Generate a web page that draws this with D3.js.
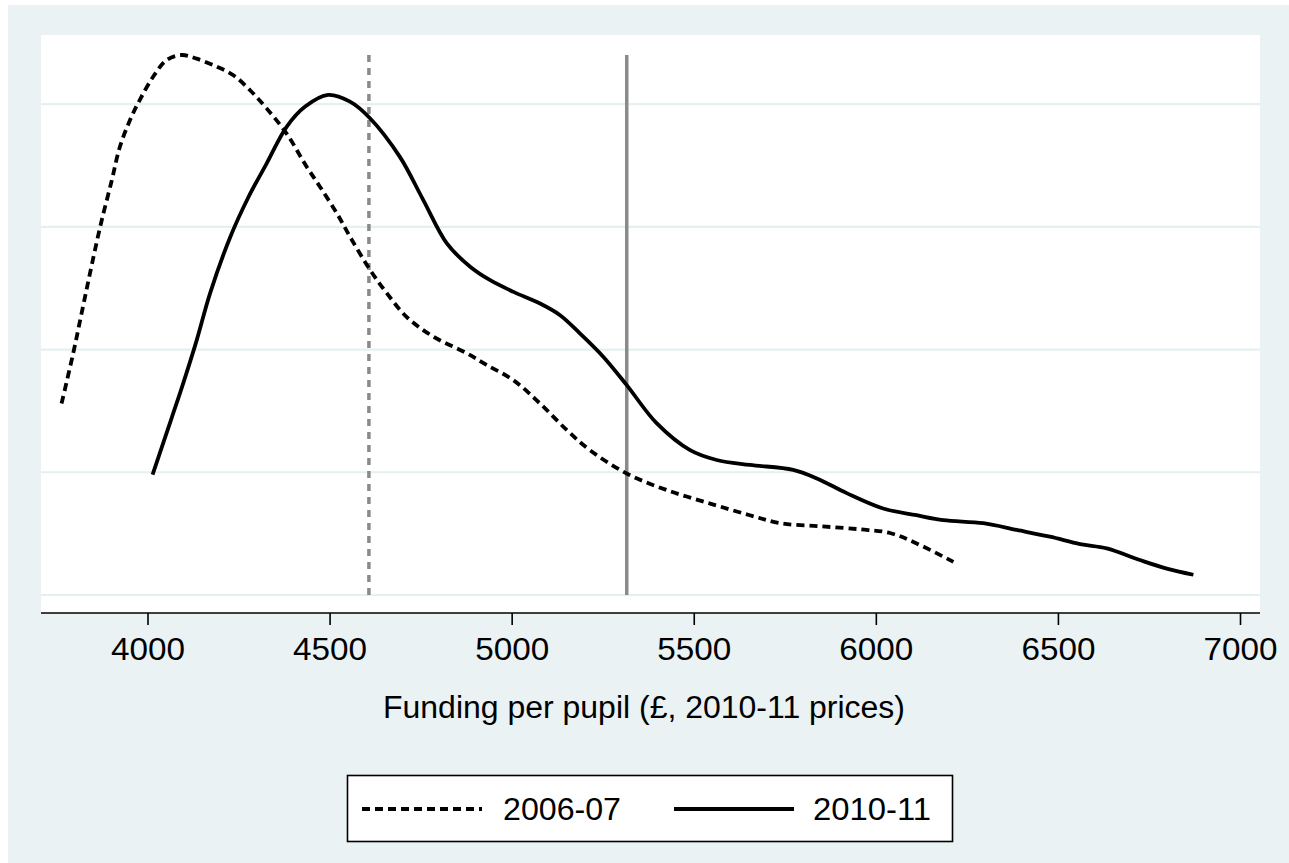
<!DOCTYPE html>
<html>
<head>
<meta charset="utf-8">
<script src="https://cdn.jsdelivr.net/npm/d3@7"></script>
<style>
  html, body { margin: 0; padding: 0; background: #ffffff; }
  svg { display: block; }
  text { font-family: "Liberation Sans", Arial, "DejaVu Sans", sans-serif; fill: #000; }
</style>
</head>
<body>
<svg id="chart" width="1289" height="863"></svg>
<script>
// ---- Data (kernel density of funding per pupil, density in units of 1e-4) ----
const funding0607 = [3764, 3796, 3819, 3842, 3870, 3902, 3924, 3952, 3979, 4016, 4053, 4094, 4135, 4190, 4236, 4281, 4327, 4382, 4437, 4474, 4520, 4556, 4611, 4657, 4712, 4785, 4877, 4931, 5005, 5078, 5151, 5215, 5316, 5426, 5545, 5654, 5737, 5847, 5957, 6039, 6112, 6213];
const density0607 = [3.12, 3.94, 4.59, 5.24, 6.00, 6.76, 7.30, 7.74, 8.07, 8.45, 8.72, 8.80, 8.74, 8.61, 8.47, 8.23, 7.93, 7.52, 6.98, 6.65, 6.22, 5.84, 5.30, 4.92, 4.53, 4.21, 3.94, 3.75, 3.50, 3.12, 2.69, 2.36, 1.98, 1.71, 1.49, 1.30, 1.17, 1.12, 1.07, 1.01, 0.84, 0.54];

const funding1011 = [4014, 4066, 4098, 4135, 4172, 4227, 4276, 4327, 4382, 4433, 4496, 4556, 4611, 4693, 4757, 4822, 4886, 4941, 5005, 5078, 5133, 5188, 5252, 5316, 5398, 5490, 5563, 5654, 5773, 5838, 5920, 6020, 6112, 6185, 6295, 6387, 6478, 6561, 6634, 6725, 6799, 6872];
const density1011 = [1.96, 2.88, 3.45, 4.15, 4.92, 5.83, 6.47, 7.03, 7.63, 7.96, 8.15, 8.04, 7.77, 7.14, 6.44, 5.73, 5.35, 5.13, 4.94, 4.75, 4.56, 4.26, 3.88, 3.42, 2.80, 2.36, 2.20, 2.12, 2.04, 1.90, 1.66, 1.41, 1.30, 1.22, 1.17, 1.06, 0.95, 0.83, 0.76, 0.57, 0.43, 0.33];

const seriesNames = ["2006-07", "2010-11"];
const xTicks = [4000, 4500, 5000, 5500, 6000, 6500, 7000];
const yGrid = [0, 2, 4, 6, 8];
const medianLines = [4608, 5316];   // 2006-07 (dashed), 2010-11 (solid)
const yTop = 8.8;
const xTitle = "Funding per pupil (£, 2010-11 prices)";

// ---- Layout ----
const W = 1289, H = 863;
const plot = { left: 41, right: 1260, top: 35, bottom: 613 };
const svg = d3.select("#chart");

const x = d3.scaleLinear().domain([4000, 7000]).range([147.5, 1240]);
const y = d3.scaleLinear().domain([0, yTop]).range([595, 55]);

// graph region background
svg.append("rect").attr("x", 8).attr("y", 5).attr("width", W - 8).attr("height", H - 5)
  .attr("fill", "#eaf2f3");
// plot region
svg.append("rect").attr("x", plot.left).attr("y", plot.top)
  .attr("width", plot.right - plot.left).attr("height", plot.bottom - plot.top)
  .attr("fill", "#ffffff");

// gridlines
svg.append("g").selectAll("line").data(yGrid).join("line")
  .attr("x1", plot.left).attr("x2", plot.right)
  .attr("y1", d => y(d)).attr("y2", d => y(d))
  .attr("stroke", "#e6eff1").attr("stroke-width", 2.2);

// vertical reference lines
svg.append("line")
  .attr("x1", x(medianLines[0])).attr("x2", x(medianLines[0]))
  .attr("y1", y(0)).attr("y2", y(yTop))
  .attr("stroke", "#8a8a8a").attr("stroke-width", 3.5).attr("stroke-dasharray", "7,6");
svg.append("line")
  .attr("x1", x(medianLines[1])).attr("x2", x(medianLines[1]))
  .attr("y1", y(0)).attr("y2", y(yTop))
  .attr("stroke", "#8a8a8a").attr("stroke-width", 3.5);

// density curves
const line = d3.line().x(d => x(d[0])).y(d => y(d[1])).curve(d3.curveCatmullRom.alpha(0.5));
const d0607 = funding0607.map((f, i) => [f, density0607[i]]);
const d1011 = funding1011.map((f, i) => [f, density1011[i]]);

svg.append("path").datum(d0607).attr("d", line)
  .attr("fill", "none").attr("stroke", "#000").attr("stroke-width", 3.8)
  .attr("stroke-dasharray", "8,5");
svg.append("path").datum(d1011).attr("d", line)
  .attr("fill", "none").attr("stroke", "#000").attr("stroke-width", 3.8)
  .attr("stroke-linejoin", "round");

// x axis
const xAxis = d3.axisBottom(x).tickValues(xTicks).tickSize(12).tickPadding(10)
  .tickFormat(d3.format("d"));
const gx = svg.append("g").attr("transform", `translate(0,${plot.bottom})`).call(xAxis);
gx.select(".domain").attr("d", `M${plot.left},0H${plot.right}`)
  .attr("stroke", "#000").attr("stroke-width", 1.6);
gx.selectAll(".tick line").attr("stroke", "#000").attr("stroke-width", 1.6);
gx.selectAll(".tick text")
  .attr("font-family", '"Liberation Sans", Arial, sans-serif')
  .attr("font-size", 31).attr("fill", "#000")
  .attr("dy", null).attr("y", 47)
  .attr("textLength", 74).attr("lengthAdjust", "spacingAndGlyphs");

// axis title
svg.append("text").attr("x", (383 + 905) / 2).attr("y", 718)
  .attr("text-anchor", "middle").attr("font-size", 31)
  .attr("textLength", 522).attr("lengthAdjust", "spacingAndGlyphs")
  .text(xTitle);

// legend
const lg = svg.append("g");
lg.append("rect").attr("x", 347.5).attr("y", 775.5).attr("width", 605).attr("height", 66)
  .attr("fill", "#fff").attr("stroke", "#000").attr("stroke-width", 1.6);
const legendItems = [
  { name: seriesNames[0], x0: 362, x1: 482, tx: 503, dash: "8,5" },
  { name: seriesNames[1], x0: 674, x1: 794, tx: 813, dash: null }
];
legendItems.forEach(it => {
  lg.append("line").attr("x1", it.x0).attr("x2", it.x1).attr("y1", 809).attr("y2", 809)
    .attr("stroke", "#000").attr("stroke-width", 3.8)
    .attr("stroke-dasharray", it.dash);
  lg.append("text").attr("x", it.tx).attr("y", 820).attr("font-size", 31)
    .attr("textLength", 118).attr("lengthAdjust", "spacingAndGlyphs")
    .text(it.name);
});
</script>
</body>
</html>
